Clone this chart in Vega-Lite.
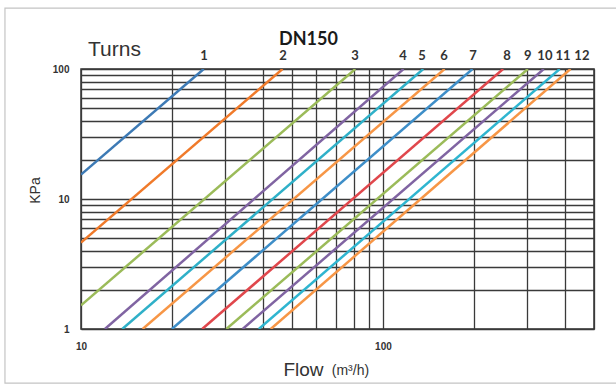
{
  "$schema": "https://vega.github.io/schema/vega-lite/v6.json",
  "autosize": {"type": "none"},
  "padding": {"left": 81, "top": 69, "right": 22, "bottom": 60},
  "width": 513,
  "height": 260,
  "background": "white",
  "title": {"text": "DN150", "font": "Lato", "fontSize": 18, "fontWeight": "bold", "color": "#1a1a1a", "anchor": "middle", "dx": -29, "offset": -41},
  "datasets": {
    "lines": [
      {"turn": 1, "flow": 10, "kpa": 15.4}, {"turn": 1, "flow": 25.5, "kpa": 100},
      {"turn": 2, "flow": 10, "kpa": 4.62}, {"turn": 2, "flow": 46.5, "kpa": 100},
      {"turn": 3, "flow": 10, "kpa": 1.52}, {"turn": 3, "flow": 81, "kpa": 100},
      {"turn": 4, "flow": 12.0, "kpa": 1}, {"turn": 4, "flow": 117, "kpa": 100},
      {"turn": 5, "flow": 13.7, "kpa": 1}, {"turn": 5, "flow": 136, "kpa": 100},
      {"turn": 6, "flow": 16.0, "kpa": 1}, {"turn": 6, "flow": 160, "kpa": 100},
      {"turn": 7, "flow": 20.0, "kpa": 1}, {"turn": 7, "flow": 198, "kpa": 100},
      {"turn": 8, "flow": 25.2, "kpa": 1}, {"turn": 8, "flow": 250, "kpa": 100},
      {"turn": 9, "flow": 30.3, "kpa": 1}, {"turn": 9, "flow": 302, "kpa": 100},
      {"turn": 10, "flow": 34.3, "kpa": 1}, {"turn": 10, "flow": 341, "kpa": 100},
      {"turn": 11, "flow": 38.8, "kpa": 1}, {"turn": 11, "flow": 385, "kpa": 100},
      {"turn": 12, "flow": 42.5, "kpa": 1}, {"turn": 12, "flow": 418, "kpa": 100}
    ],
    "labels": [
      {"turn": 1, "flow": 25.55}, {"turn": 2, "flow": 46.7}, {"turn": 3, "flow": 80.8},
      {"turn": 4, "flow": 116.5}, {"turn": 5, "flow": 134.6}, {"turn": 6, "flow": 159.2},
      {"turn": 7, "flow": 198.6}, {"turn": 8, "flow": 257.5}, {"turn": 9, "flow": 302},
      {"turn": 10, "flow": 343.8}, {"turn": 11, "flow": 394.5}, {"turn": 12, "flow": 456}
    ],
    "notes": [{"label": "Turns"}],
    "units": [{"label": "(m³/h)"}],
    "frame": [{"x1": 5.6, "x2": 1200, "y1": 0.384, "y2": 294}]
  },
  "layer": [
    {
      "data": {"name": "frame"},
      "mark": {"type": "rect", "fill": null, "stroke": "#c4c4c4", "strokeWidth": 1.2, "clip": false},
      "encoding": {
        "x": {"field": "x1", "type": "quantitative"},
        "x2": {"field": "x2"},
        "y": {"field": "y1", "type": "quantitative"},
        "y2": {"field": "y2"}
      }
    },
    {
      "data": {"name": "lines"},
      "mark": {"type": "line", "strokeWidth": 2.5, "clip": true},
      "encoding": {
        "x": {
          "field": "flow", "type": "quantitative",
          "scale": {"type": "log", "domain": [10, 500], "nice": false},
          "axis": {
            "values": [10, 20, 30, 40, 50, 60, 70, 80, 90, 100, 200, 300, 400, 500],
            "labelExpr": "datum.value === 10 ? '10' : (datum.value === 100 ? '100' : '')",
            "labelFlush": false, "labelOverlap": false,
            "title": "Flow", "titleX": 222, "titleY": 46, "titleAlign": "center", "titleBaseline": "alphabetic",
            "titleFontSize": 19
          }
        },
        "y": {
          "field": "kpa", "type": "quantitative",
          "scale": {"type": "log", "domain": [1, 100], "nice": false},
          "axis": {
            "values": [1, 2, 3, 4, 5, 6, 7, 8, 9, 10, 20, 30, 40, 50, 60, 70, 80, 90, 100],
            "labelExpr": "datum.value === 1 ? '1' : (datum.value === 10 ? '10' : (datum.value === 100 ? '100' : ''))",
            "labelOverlap": false, "labelFlush": false,
            "title": "KPa", "titleX": -46, "titleY": 121, "titleAlign": "center", "titleBaseline": "middle", "titleAngle": 270,
            "titleFontSize": 14
          }
        },
        "color": {
          "field": "turn", "type": "nominal",
          "scale": {"domain": [1, 2, 3, 4, 5, 6, 7, 8, 9, 10, 11, 12],
                    "range": ["#3d7ab5", "#f07a2a", "#9bbb59", "#8064a2", "#2fb0c8", "#f79646", "#3e8ec8", "#e0474c", "#9bbb59", "#8064a2", "#2fb5d0", "#f79646"]},
          "legend": null
        }
      }
    },
    {
      "data": {"name": "labels"},
      "mark": {"type": "text", "font": "Lato", "fontWeight": "bold", "fontSize": 13, "color": "#333333", "baseline": "alphabetic", "dy": -9},
      "encoding": {
        "x": {"field": "flow", "type": "quantitative"},
        "y": {"datum": 100},
        "text": {"field": "turn", "type": "nominal"}
      }
    },
    {
      "data": {"name": "notes"},
      "mark": {"type": "text", "font": "Liberation Sans", "fontSize": 21, "color": "#333333", "align": "left", "baseline": "alphabetic", "dy": -13},
      "encoding": {
        "x": {"datum": 10.55},
        "y": {"datum": 100},
        "text": {"field": "label", "type": "nominal"}
      }
    },
    {
      "data": {"name": "units"},
      "mark": {"type": "text", "font": "Liberation Sans", "fontSize": 14, "color": "#333333", "align": "left", "baseline": "alphabetic", "dy": 46},
      "encoding": {
        "x": {"datum": 67.7},
        "y": {"datum": 1},
        "text": {"field": "label", "type": "nominal"}
      }
    }
  ],
  "config": {
    "view": {"stroke": "#333333", "strokeWidth": 1.5},
    "axis": {
      "grid": true, "gridColor": "#3a3a3a", "gridWidth": 1.3, "gridOpacity": 1,
      "ticks": false, "domain": false,
      "labelFont": "Liberation Sans", "labelFontWeight": "bold", "labelFontSize": 10, "labelColor": "#333333", "labelPadding": 12,
      "titleFont": "Liberation Sans", "titleFontWeight": "normal", "titleColor": "#333333"
    }
  }
}
